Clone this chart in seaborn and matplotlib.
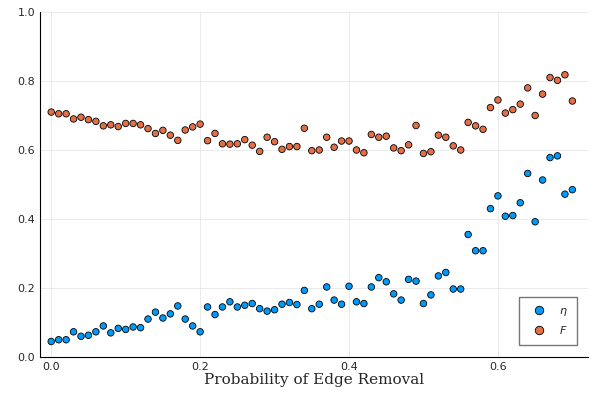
import numpy as np
import pandas as pd
import matplotlib
matplotlib.use("Agg")
import matplotlib.pyplot as plt
import seaborn as sns

p = np.round(np.arange(0, 0.701, 0.01), 2)
eta = [0.045, 0.050, 0.050, 0.073, 0.060, 0.063, 0.073, 0.090, 0.070, 0.083,
       0.080, 0.087, 0.085, 0.110, 0.130, 0.113, 0.125, 0.148, 0.110, 0.090,
       0.073, 0.145, 0.123, 0.145, 0.160, 0.145, 0.150, 0.155, 0.140, 0.133,
       0.137, 0.153, 0.158, 0.152, 0.193, 0.140, 0.153, 0.203, 0.165, 0.153,
       0.205, 0.160, 0.155, 0.203, 0.230, 0.218, 0.183, 0.165, 0.225, 0.220,
       0.155, 0.180, 0.235, 0.245, 0.197, 0.197, 0.355, 0.308, 0.308, 0.430,
       0.467, 0.408, 0.410, 0.447, 0.532, 0.392, 0.513, 0.578, 0.583, 0.472,
       0.485]
F = [0.710, 0.705, 0.705, 0.690, 0.695, 0.688, 0.683, 0.670, 0.673, 0.668,
     0.677, 0.677, 0.673, 0.662, 0.648, 0.657, 0.643, 0.628, 0.658, 0.667,
     0.675, 0.627, 0.648, 0.618, 0.617, 0.618, 0.630, 0.614, 0.596, 0.637,
     0.624, 0.602, 0.610, 0.610, 0.663, 0.598, 0.600, 0.637, 0.608, 0.626,
     0.626, 0.600, 0.592, 0.645, 0.637, 0.640, 0.606, 0.598, 0.615, 0.671,
     0.590, 0.595, 0.643, 0.637, 0.612, 0.600, 0.680, 0.670, 0.660, 0.723,
     0.745, 0.707, 0.717, 0.733, 0.780, 0.700, 0.762, 0.810, 0.802, 0.818,
     0.742]

df = pd.DataFrame({"p": np.concatenate([p, p]),
                   "value": eta + F,
                   "series": [r"$\eta$"] * len(p) + [r"$F$"] * len(p)})

sns.set_style("white")
fig = plt.figure(figsize=(6, 4), dpi=100)
ax = fig.add_axes([0.067, 0.1075, 0.913, 0.8625])
ax.grid(True, color="#e6e6e6", linewidth=0.6)
ax.set_axisbelow(True)
sns.scatterplot(data=df, x="p", y="value", hue="series",
                palette=["#009AFA", "#E36F47"], s=22, edgecolor="black",
                linewidth=0.6, ax=ax)
ax.set_xlim(-0.0148, 0.721)
ax.set_ylim(0, 1)
ax.set_xticks([0, 0.2, 0.4, 0.6])
ax.set_xticklabels(["0.0", "0.2", "0.4", "0.6"])
ax.set_yticks([0, 0.2, 0.4, 0.6, 0.8, 1.0])
ax.set_yticklabels(["0.0", "0.2", "0.4", "0.6", "0.8", "1.0"])
ax.tick_params(labelsize=8, direction="in", length=3, color="black")
for s in ["top", "right"]:
    ax.spines[s].set_visible(False)
for s in ["left", "bottom"]:
    ax.spines[s].set_color("black")
    ax.spines[s].set_linewidth(0.8)
ax.set_ylabel("")
ax.set_xlabel("Probability of Edge Removal", family="DejaVu Serif", fontsize=11,
              labelpad=1)
leg = ax.legend(loc="lower right", fontsize=8, frameon=True, fancybox=False,
                edgecolor="#555555", markerscale=1.3, borderpad=0.8,
                bbox_to_anchor=(0.99, 0.02))
fig.savefig("out.png", dpi=100)
